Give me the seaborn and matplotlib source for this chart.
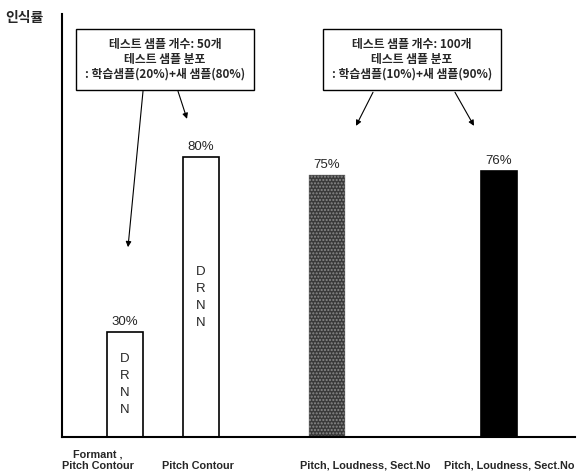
import matplotlib
matplotlib.use('Agg')
import matplotlib.pyplot as plt
import pandas as pd
import seaborn as sns

# Data
categories = ['Formant ,\nPitch Contour', 'Pitch Contour',
              'Pitch, Loudness, Sect.No', 'Pitch, Loudness, Sect.No']
accuracy = [30, 80, 75, 76]
value_labels = ['30%', '80%', '75%', '76%']
inner_text = ['D\nR\nN\nN', 'D\nR\nN\nN', '', '']
box_texts = ['테스트 샘플 개수: 50개\n테스트 샘플 분포\n: 학습샘플(20%)+새 샘플(80%)',
             '테스트 샘플 개수: 100개\n테스트 샘플 분포\n: 학습샘플(10%)+새 샘플(90%)']
ylabel = '인식률'

# layout (x in axis units, roughly pixels from the y axis)
bar_pos = [63, 139, 264.5, 437]
label_pos = [36, 136, 303, 447]
face = ['white', 'white', '#3a3a3a', 'black']

sns.set_style('white')
plt.rcParams['font.family'] = ['Noto Sans CJK KR', 'DejaVu Sans']

df = pd.DataFrame({'pos': bar_pos, 'acc': accuracy})

fig = plt.figure(figsize=(5.79, 4.75), dpi=100)
ax = fig.add_axes([62 / 579, 38 / 475, 513 / 579, 423 / 475])
sns.barplot(data=df, x='pos', y='acc', native_scale=True, width=36 / 76,
            color='white', edgecolor='black', linewidth=1.2, ax=ax)

for p, fc in zip(ax.patches, face):
    p.set_facecolor(fc)
    if fc == '#3a3a3a':
        p.set_hatch('.....')
        p.set_edgecolor('#8a8a8a')
        p.set_linewidth(0.3)

ax.set_xlim(0, 513)
ax.set_ylim(0, 121)
ax.set_xticks([])
ax.set_yticks([])
ax.set_xlabel('')
ax.set_ylabel('')
for s in ['top', 'right']:
    ax.spines[s].set_visible(False)
for s in ['left', 'bottom']:
    ax.spines[s].set_color('black')
    ax.spines[s].set_linewidth(1.5)

# category labels, bottom aligned under the axis
for x, c in zip(label_pos, categories):
    ax.text(x, -34 / 423, c, transform=ax.get_xaxis_transform(), ha='center', va='bottom',
            fontsize=7.8, fontweight='bold', family='Liberation Sans', linespacing=1.2)

for x, v, lab, t in zip(bar_pos, accuracy, value_labels, inner_text):
    ax.text(x, v + 1.2, lab, ha='center', va='bottom', fontsize=9.5, family='Liberation Sans')
    if t:
        ax.text(x, v / 2 if v < 50 else v - 40, t, ha='center', va='center',
                fontsize=9.5, family='Liberation Sans', linespacing=1.55)

fig.text(5 / 579, 1 - 18 / 475, ylabel, fontsize=10, fontweight='bold', va='center', ha='left')

# annotation boxes
box_xy = [(103, 108), (350, 108)]
for (bx, by), txt in zip(box_xy, box_texts):
    ax.text(bx, by, txt, ha='center', va='center', fontsize=8.5, fontweight='bold',
            linespacing=1.2,
            bbox=dict(boxstyle='square,pad=0.75', fc='white', ec='black', lw=1))

arrows = [((81, 98.9), (66, 54.3)), ((116, 98.9), (125, 91)),
          ((311, 98.6), (294, 89)), ((393, 98.6), (412, 89))]
for (x0, y0), (x1, y1) in arrows:
    ax.annotate('', xy=(x1, y1), xytext=(x0, y0),
                arrowprops=dict(arrowstyle='-|>', color='black', lw=0.8, mutation_scale=8,
                                shrinkA=0, shrinkB=0))

fig.savefig('out.png', dpi=100)
